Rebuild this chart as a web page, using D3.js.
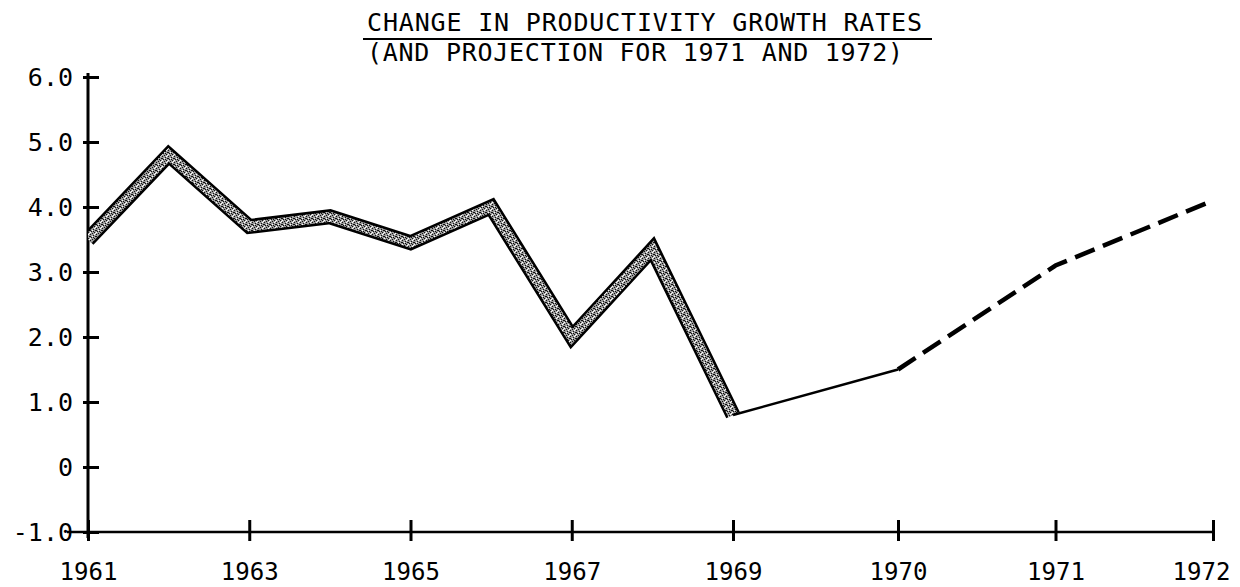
<!DOCTYPE html>
<html>
<head>
<meta charset="utf-8">
<script src="https://cdn.jsdelivr.net/npm/d3@7"></script>
<style>
  body { margin: 0; background: #fff; }
  svg { display: block; }
  text { font-family: "DejaVu Sans Mono", "Liberation Mono", monospace; fill: #000; }
</style>
</head>
<body>
<svg id="chart" width="1240" height="587"></svg>
<script>
// Productivity growth rates, percent change per year
const actualYears = [1961, 1962, 1963, 1964, 1965, 1966, 1967, 1968, 1969];
const actualValues = [3.5, 4.8, 3.7, 3.85, 3.45, 4.0, 2.0, 3.35, 0.8];
const preliminaryYears = [1969, 1970];
const preliminaryValues = [0.8, 1.5];
const projectedYears = [1970, 1971, 1972];
const projectedValues = [1.5, 3.1, 4.1];

const yTickValues = [6, 5, 4, 3, 2, 1, 0, -1];
const yTickLabels = ["6.0", "5.0", "4.0", "3.0", "2.0", "1.0", "0", "-1.0"];
const xTickValues = [1961, 1963, 1965, 1967, 1969, 1970, 1971, 1972];
const xTickLabels = ["1961", "1963", "1965", "1967", "1969", "1970", "1971", "1972"];
const titleLines = ["CHANGE IN PRODUCTIVITY GROWTH RATES", "(AND PROJECTION FOR 1971 AND 1972)"];

const W = 1240, H = 587;
const svg = d3.select("#chart");

// The year axis is stretched after 1969: the last three years get wider spacing.
const x = d3.scaleLinear()
  .domain([1961, 1969, 1970, 1972])
  .range([88, 733, 898, 1213]);
const y = d3.scaleLinear()
  .domain([-1, 6])
  .range([532, 77]);

// Stipple texture for the band of recorded years
const defs = svg.append("defs");
const pat = defs.append("pattern")
  .attr("id", "stipple")
  .attr("patternUnits", "userSpaceOnUse")
  .attr("width", 6).attr("height", 6);
pat.append("rect").attr("width", 6).attr("height", 6).attr("fill", "#9c9c9c");
[[0,0],[3,1],[1,3],[4,4],[5,2],[2,5],[0,2],[3,3]].forEach(([px, py]) => {
  pat.append("rect").attr("x", px).attr("y", py).attr("width", 1).attr("height", 1).attr("fill", "#111");
});
[[2,2],[5,5],[0,4],[4,0]].forEach(([px, py]) => {
  pat.append("rect").attr("x", px).attr("y", py).attr("width", 1).attr("height", 1).attr("fill", "#fff");
});
defs.append("clipPath").attr("id", "plotClip")
  .append("rect").attr("x", x(1961)).attr("y", 0).attr("width", W).attr("height", H);

// Title
const title = svg.append("g");
title.append("text")
  .attr("x", 367).attr("y", 31)
  .attr("font-size", 25)
  .attr("textLength", 555).attr("lengthAdjust", "spacing")
  .text(titleLines[0]);
title.append("line")
  .attr("x1", 363).attr("x2", 932).attr("y1", 39).attr("y2", 39)
  .attr("stroke", "#000").attr("stroke-width", 2);
title.append("text")
  .attr("x", 367).attr("y", 61)
  .attr("font-size", 25)
  .attr("textLength", 536).attr("lengthAdjust", "spacing")
  .text(titleLines[1]);

// Y axis
const yAxis = svg.append("g")
  .attr("transform", `translate(${x(1961)},0)`)
  .call(d3.axisLeft(y)
    .tickValues(yTickValues)
    .tickFormat((d, i) => yTickLabels[i])
    .tickSize(0)
    .tickPadding(15));
yAxis.select(".domain").remove();
yAxis.selectAll(".tick text")
  .attr("font-family", "DejaVu Sans Mono")
  .attr("font-size", 25)
  .attr("fill", "#000");
yAxis.selectAll(".tick line")
  .attr("x1", -5).attr("x2", 11)
  .attr("stroke", "#000").attr("stroke-width", 3);
yAxis.append("line")
  .attr("x1", 0).attr("x2", 0)
  .attr("y1", y(6) - 4).attr("y2", y(-1) + 6)
  .attr("stroke", "#000").attr("stroke-width", 3);

// X axis
const labelWidth = 58;
const xAxis = svg.append("g")
  .attr("transform", `translate(0,${y(-1)})`)
  .call(d3.axisBottom(x)
    .tickValues(xTickValues)
    .tickFormat((d, i) => xTickLabels[i])
    .tickSize(0)
    .tickPadding(30));
xAxis.select(".domain").remove();
xAxis.selectAll(".tick text")
  .attr("font-family", "DejaVu Sans Mono")
  .attr("font-size", 25)
  .attr("fill", "#000")
  .attr("textLength", labelWidth)
  .attr("lengthAdjust", "spacingAndGlyphs")
  // keep the last label inside the page
  .attr("x", d => Math.min(0, (W - 10 - labelWidth / 2) - x(d)));
xAxis.selectAll(".tick line")
  .attr("y1", -12).attr("y2", 9)
  .attr("stroke", "#000").attr("stroke-width", 3);
xAxis.append("line")
  .attr("x1", 67).attr("x2", x(1972) + 2)
  .attr("y1", 0).attr("y2", 0)
  .attr("stroke", "#000").attr("stroke-width", 2.5);

// Recorded years: thick shaded band
const line = d3.line().x(d => x(d[0])).y(d => y(d[1]));
const actual = actualYears.map((yr, i) => [yr, actualValues[i]]);
const band = svg.append("g").attr("clip-path", "url(#plotClip)");
band.append("path")
  .attr("d", line(actual))
  .attr("fill", "none")
  .attr("stroke", "#000")
  .attr("stroke-width", 15)
  .attr("stroke-linejoin", "miter");
band.append("path")
  .attr("d", line(actual))
  .attr("fill", "none")
  .attr("stroke", "url(#stipple)")
  .attr("stroke-width", 10)
  .attr("stroke-linejoin", "miter");

// 1969 to 1970: thin solid line
svg.append("path")
  .attr("d", line(preliminaryYears.map((yr, i) => [yr, preliminaryValues[i]])))
  .attr("fill", "none")
  .attr("stroke", "#000")
  .attr("stroke-width", 2.5);

// Projection: dashed line
svg.append("path")
  .attr("d", line(projectedYears.map((yr, i) => [yr, projectedValues[i]])))
  .attr("fill", "none")
  .attr("stroke", "#000")
  .attr("stroke-width", 4.5)
  .attr("stroke-dasharray", "21,9");
</script>
</body>
</html>
